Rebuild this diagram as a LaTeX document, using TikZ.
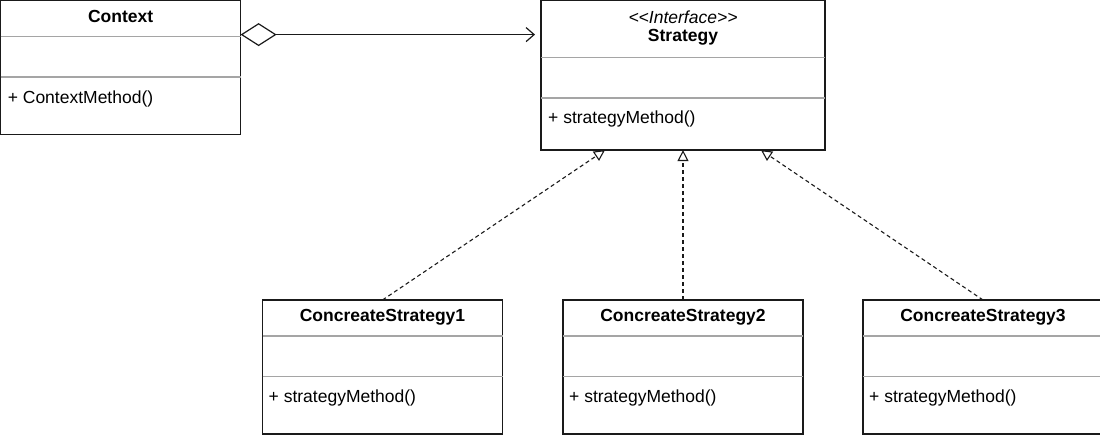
\documentclass[tikz,border=0pt]{standalone}
\usepackage{fontspec}
\setmainfont{Liberation Sans}
\usetikzlibrary{arrows.meta,positioning,calc}
\definecolor{trait}{HTML}{1A1A1A}
\definecolor{cloisonC}{RGB}{165,165,165}
\tikzset{
  classe/.style={rectangle, draw=trait, line width=1.2pt, inner sep=0pt, outer sep=0pt,
                 anchor=north west},
  titre/.style={font=\fontsize{17.5}{21}\selectfont\bfseries, inner sep=0pt},
  stereo/.style={font=\fontsize{17.5}{21}\selectfont\itshape, inner sep=0pt},
  membre/.style={font=\fontsize{17.5}{21}\selectfont, inner sep=0pt, anchor=west},
  cloison/.style={draw=cloisonC, line width=1.2pt},
  agreg/.style={{Diamond[open,length=36pt,width=23pt]}-{Straight Barb[length=8pt,width=14pt]},
                line width=1.2pt, draw=trait, shorten >=6pt},
  realise/.style={-{Triangle[open,length=11pt,width=11pt]}, line width=1.1pt, draw=trait,
                  dash pattern=on 4pt off 3pt},
}

\begin{document}
\begin{tikzpicture}[x=1pt, y=-1pt]
        \useasboundingbox (0,0) rectangle (1100,435);
        \clip (0,0) rectangle (1100,435);
        % classes
        \node[classe, minimum width=240pt, minimum height=134pt] (ctx) at (0.6,0.6) {};
        \node[classe, minimum width=284pt, minimum height=149.5pt] (strat) at (541,0.6) {};
        \node[classe, minimum width=240pt, minimum height=134pt] (cs1) at (262.5,300) {};
        \node[classe, minimum width=240pt, minimum height=134pt] (cs2) at (563,300) {};
        \node[classe, minimum width=240pt, minimum height=134pt] (cs3) at (863,300) {};
        % compartiments
        \draw[cloison] ($(ctx.north west)+(0,36)$) -- ($(ctx.north east)+(0,36)$);
        \draw[cloison] ($(ctx.north west)+(0,76.5)$) -- ($(ctx.north east)+(0,76.5)$);
        \draw[cloison] ($(strat.north west)+(0,57)$) -- ($(strat.north east)+(0,57)$);
        \draw[cloison] ($(strat.north west)+(0,97.5)$) -- ($(strat.north east)+(0,97.5)$);
        \draw[cloison] ($(cs1.north west)+(0,36)$) -- ($(cs1.north east)+(0,36)$);
        \draw[cloison] ($(cs1.north west)+(0,76.5)$) -- ($(cs1.north east)+(0,76.5)$);
        \draw[cloison] ($(cs2.north west)+(0,36)$) -- ($(cs2.north east)+(0,36)$);
        \draw[cloison] ($(cs2.north west)+(0,76.5)$) -- ($(cs2.north east)+(0,76.5)$);
        \draw[cloison] ($(cs3.north west)+(0,36)$) -- ($(cs3.north east)+(0,36)$);
        \draw[cloison] ($(cs3.north west)+(0,76.5)$) -- ($(cs3.north east)+(0,76.5)$);
        % textes
        \node[titre] (ctxT) at ($(ctx.north)+(0,16)$) {Context};
        \node[membre] (ctxM) at ($(ctx.north west)+(7,98)$) {+ ContextMethod()};
        \node[stereo] (stratS) at ($(strat.north)+(0,17)$)
          {\textless\kern0pt\textless\kern0pt Interface\kern0pt\textgreater\kern0pt\textgreater};
        \node[titre] (stratT) at ($(strat.north)+(0,37)$) {Strategy};
        \node[membre] (stratM) at ($(strat.north west)+(7,118.5)$) {+ strategyMethod()};
        \node[titre] (cs1T) at ($(cs1.north)+(0,17)$) {ConcreateStrategy1};
        \node[membre] (cs1M) at ($(cs1.north west)+(6,97.5)$) {+ strategyMethod()};
        \node[titre] (cs2T) at ($(cs2.north)+(0,17)$) {ConcreateStrategy2};
        \node[membre] (cs2M) at ($(cs2.north west)+(6,97.5)$) {+ strategyMethod()};
        \node[titre] (cs3T) at ($(cs3.north)+(0,17)$) {ConcreateStrategy3};
        \node[membre] (cs3M) at ($(cs3.north west)+(6,97.5)$) {+ strategyMethod()};
        % relations
        \draw[agreg] ([yshift=-34pt]ctx.north east) -- ([yshift=-34pt]strat.north west);
        \draw[realise] (cs1.north) -- ([xshift=-78pt]strat.south);
        \draw[realise] (cs2.north) -- (strat.south);
        \draw[realise] (cs3.north) -- ([xshift=78pt]strat.south);
      \end{tikzpicture}
\end{document}
